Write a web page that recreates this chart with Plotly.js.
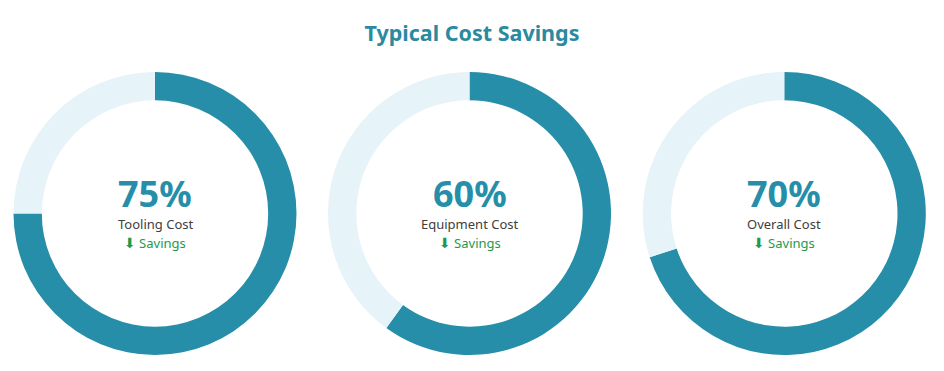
<!DOCTYPE html>
<html>
<head>
<meta charset="utf-8">
<script src="https://cdn.plot.ly/plotly-3.0.1.min.js"></script>
<style>
  html, body { margin: 0; padding: 0; background: #ffffff; }
  #chart { width: 944px; height: 371px; }
</style>
</head>
<body>
<div id="chart"></div>
<script>
// Data
const categories = ["Tooling Cost", "Equipment Cost", "Overall Cost"];
const savings = [75, 60, 70];
const sliceLabels = ["Savings", "Remaining"];
const badgeText = "Savings";
const chartTitle = "Typical Cost Savings";

// Styles
const teal = "#268ea8";
const light = "#e6f3f8";
const titleColor = "#2a8aa0";
const green = "#1e9a4c";
const font = "'Noto Sans', 'Open Sans', 'DejaVu Sans', sans-serif";

const W = 944, H = 371;
const centersX = [155, 469.5, 784.3];
const centerY = 213.5;
const R = 141.5;

const traces = savings.map((v, i) => ({
  type: "pie",
  values: [v, 100 - v],
  labels: sliceLabels,
  hole: 0.80,
  sort: false,
  direction: "clockwise",
  rotation: 0,
  marker: { colors: [teal, light], line: { width: 0 } },
  textinfo: "none",
  hoverinfo: "skip",
  showlegend: false,
  domain: {
    x: [(centersX[i] - R) / W, (centersX[i] + R) / W],
    y: [1 - (centerY + R) / H, 1 - (centerY - R) / H]
  }
}));

const annotations = [];
savings.forEach((v, i) => {
  const xp = centersX[i] / W;
  annotations.push({
    xref: "paper", yref: "paper", x: xp, y: 1 - 193 / H,
    xanchor: "center", yanchor: "middle", showarrow: false,
    text: "<b>" + v + "%</b>",
    font: { family: font, size: 36, color: teal }
  });
  annotations.push({
    xref: "paper", yref: "paper", x: xp, y: 1 - 224.5 / H,
    xanchor: "center", yanchor: "middle", showarrow: false,
    text: categories[i],
    font: { family: font, size: 13, color: "#404040" }
  });
  annotations.push({
    xref: "paper", yref: "paper", x: xp, y: 1 - 243.5 / H,
    xanchor: "center", yanchor: "middle", showarrow: false,
    text: "<span style=\"font-family:'DejaVu Sans';font-size:14px\">\u2B07</span> " + badgeText,
    font: { family: font, size: 13, color: green }
  });
});

const layout = {
  width: W, height: H,
  margin: { l: 0, r: 0, t: 0, b: 0 },
  paper_bgcolor: "#ffffff",
  plot_bgcolor: "#ffffff",
  title: {
    text: "<b>" + chartTitle + "</b>",
    x: 0.5, xanchor: "center",
    y: 1 - 33 / H, yanchor: "middle",
    font: { family: font, size: 21.5, color: titleColor }
  },
  annotations: annotations
};

Plotly.newPlot("chart", traces, layout, { displayModeBar: false, staticPlot: true });
</script>
</body>
</html>
